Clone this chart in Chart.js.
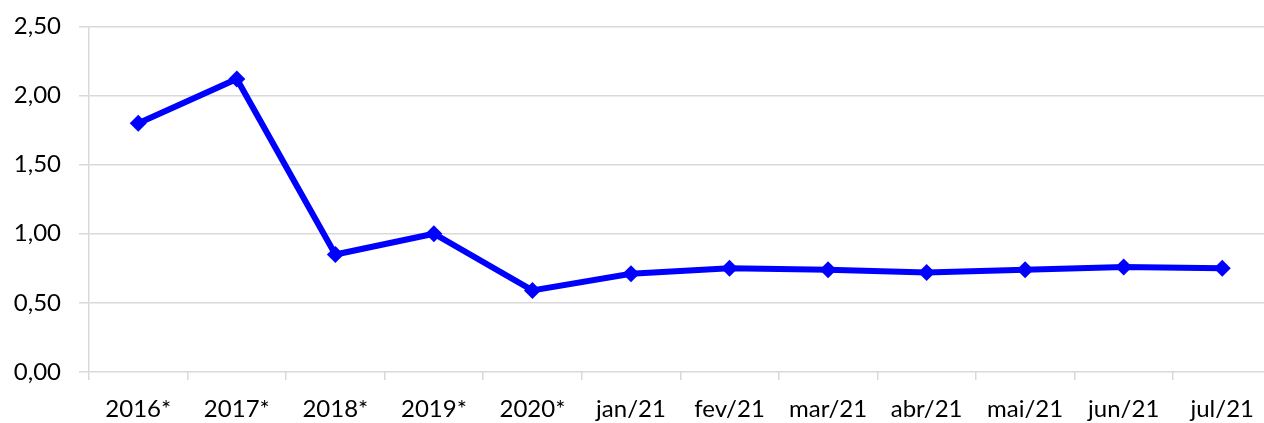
<!DOCTYPE html>
<html>
<head>
<meta charset="utf-8">
<script src="https://cdn.jsdelivr.net/npm/chart.js@4/dist/chart.umd.min.js"></script>
<style>
  html, body { margin: 0; padding: 0; background: #fff; overflow: hidden; }
  #wrap { width: 1280px; height: 429px; position: relative; top: -6px; }
</style>
</head>
<body>
<div id="wrap"><canvas id="chart"></canvas></div>
<script>
// Chart data
const labels = ['2016*', '2017*', '2018*', '2019*', '2020*', 'jan/21', 'fev/21', 'mar/21', 'abr/21', 'mai/21', 'jun/21', 'jul/21'];
const values = [1.80, 2.12, 0.85, 1.00, 0.59, 0.71, 0.75, 0.74, 0.72, 0.74, 0.76, 0.75];
const yTicks = [0, 0.5, 1, 1.5, 2, 2.5];

const gridColor = '#d9d9d9';
const fontSpec = { family: 'Lato', size: 24 };

function formatPt(v) {
  return v.toFixed(2).replace('.', ',');
}

new Chart(document.getElementById('chart'), {
  type: 'line',
  data: {
    labels: labels,
    datasets: [{
      data: values,
      borderColor: '#0000ff',
      backgroundColor: '#0000ff',
      borderWidth: 6,
      pointStyle: 'rectRot',
      pointRadius: 8.5,
      pointHoverRadius: 8.5,
      pointBorderWidth: 0,
      tension: 0
    }]
  },
  options: {
    responsive: true,
    maintainAspectRatio: false,
    animation: false,
    layout: { padding: { top: 20, right: 8, left: 0, bottom: 0 } },
    plugins: {
      legend: { display: false },
      tooltip: { enabled: false }
    },
    scales: {
      x: {
        offset: true,
        grid: {
          offset: true,
          drawOnChartArea: false,
          drawTicks: true,
          tickLength: 8,
          color: gridColor,
          lineWidth: 1.5
        },
        border: { display: false },
        ticks: {
          color: '#000',
          font: fontSpec,
          padding: 15,
          maxRotation: 0,
          autoSkip: false
        },
        afterFit: scale => { scale.height = 51; }
      },
      y: {
        min: 0,
        max: 2.5,
        afterBuildTicks: scale => {
          scale.ticks = yTicks.map(v => ({ value: v }));
        },
        grid: {
          color: gridColor,
          lineWidth: 1.5,
          tickLength: 10
        },
        border: { display: true, color: gridColor, width: 1.5 },
        ticks: {
          color: '#000',
          font: fontSpec,
          padding: 18,
          callback: v => formatPt(v)
        },
        afterFit: scale => { scale.width = 89; }
      }
    }
  }
});
</script>
</body>
</html>
